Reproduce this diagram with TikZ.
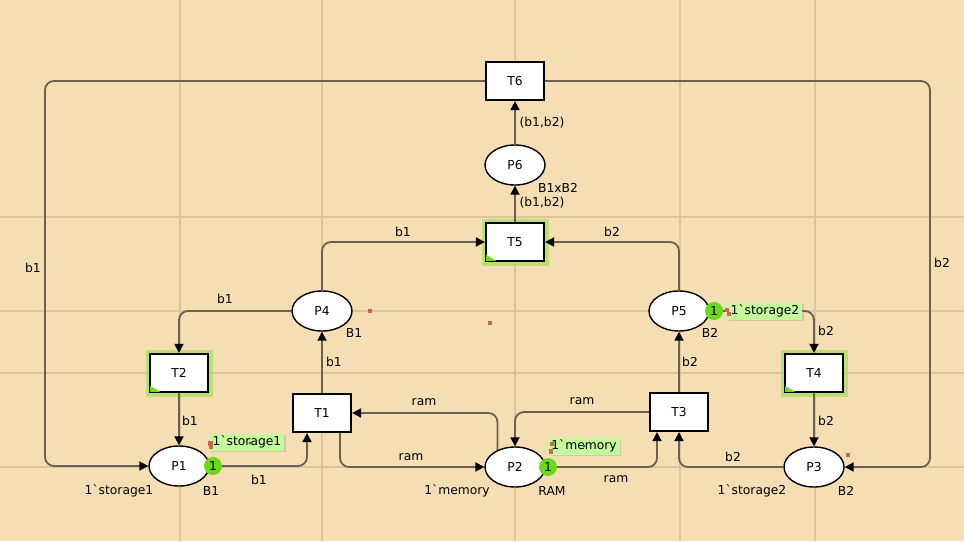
\documentclass[tikz,border=0pt]{standalone}
\usepackage{fontspec}
\newfontfamily\lbl{DejaVu Sans}
\usetikzlibrary{arrows.meta,shapes.geometric,shadows}
\definecolor{bg}{HTML}{F5DEB3}
\definecolor{gridc}{HTML}{DCC59E}
\definecolor{arcc}{HTML}{6B5F4D}
\definecolor{tokg}{HTML}{6CD916}
\definecolor{boxg}{HTML}{C4FA9C}
\definecolor{glowg}{HTML}{A6DE5A}
\definecolor{redsq}{HTML}{C8694E}
\definecolor{dotg}{HTML}{2E8B1E}
\begin{document}
\begin{tikzpicture}[x=1pt,y=-1pt,font=\lbl\fontsize{12.3}{14}\selectfont,
 place/.style={ellipse,draw=black,line width=1.4pt,fill=white,minimum width=60pt,minimum height=40pt,inner sep=0pt},
 trans/.style={rectangle,draw=black,line width=2.2pt,fill=white,minimum width=58pt,minimum height=38pt,inner sep=0pt},
 enabled/.style={preaction={draw=glowg,line width=9pt,opacity=0.7}},
 arc/.style={draw=arcc,line width=1.8pt,rounded corners=9pt,-{Triangle[length=9pt,width=9pt,color=black]}},
 lab/.style={inner sep=0pt,text=black},
 token/.style={circle,fill=tokg,minimum size=18pt,inner sep=0pt},
 markbox/.style={fill=boxg,inner xsep=3pt,inner ysep=0pt,minimum height=17pt,drop shadow={shadow xshift=1.5pt,shadow yshift=-1.5pt,opacity=0.25}},
 gridline/.style={draw=gridc,line width=2pt},
 sq/.style={fill=redsq},
 dot/.style={fill=dotg}
]
\fill[bg] (0,0) rectangle (964,541);
\useasboundingbox (0,0) rectangle (964,541);
% grid
\foreach \gx in {180,322,515,680,815} \draw[gridline] (\gx,0) -- (\gx,541);
\foreach \gy in {217,311,373,467} \draw[gridline] (0,\gy) -- (964,\gy);

% places
\node[place] (P1) at (179,466) {P1};
\node[place] (P2) at (515,467) {P2};
\node[place] (P3) at (814,467) {P3};
\node[place] (P4) at (322,311) {P4};
\node[place] (P5) at (679,311) {P5};
\node[place] (P6) at (515,165) {P6};
% transitions
\node[trans] (T1) at (322,413) {T1};
\node[trans,enabled] (T2) at (179,373) {T2};
\node[trans] (T3) at (679,412) {T3};
\node[trans,enabled] (T4) at (814,373) {T4};
\node[trans,enabled] (T5) at (515,242) {T5};
\node[trans] (T6) at (515,81) {T6};

\coordinate (L) at (45,466);
\coordinate (R) at (930,467);

% arcs
\draw[arc] (P1.east) -| ([xshift=-15pt]T1.south);
\draw[arc] ([xshift=18pt]T1.south) |- (P2.west);
\draw[arc] (P2.136) |- (T1.east);
\draw[arc] (T3.west) -| (P2.north);
\draw[arc] (P2.east) -| ([xshift=-22pt]T3.south);
\draw[arc] (P3.west) -| (T3.south);
\draw[arc] (T3.north) -- (P5.south);
\draw[arc] (P5.north) |- (T5.east);
\draw[arc] (P4.north) |- (T5.west);
\draw[arc] (T1.north) -- (P4.south);
\draw[arc] (P4.west) -| (T2.north);
\draw[arc] (T2.south) -- (P1.north);
\draw[arc] (P5.east) -| (T4.north);
\draw[arc] (T4.south) -- (P3.north);
\draw[arc] (T5.north) -- (P6.south);
\draw[arc] (P6.north) -- (T6.south);
\draw[arc] (T6.west) -| (L) -- (P1.west);
\draw[arc] (T6.east) -| (R) -- (P3.east);

% enabled corner marks
\foreach \t in {T2,T4,T5}
  \fill[tokg] ([shift={(1.2pt,1.2pt)}]\t.south west) -- ++(10,0) -- ++(-10,-6) -- cycle;

% arc labels
\node[lab] (a1) at (259,480) {b1};
\node[lab] (a2) at (411,457) {ram};
\node[lab] (a3) at (424,402) {ram};
\node[lab] (a4) at (582,401) {ram};
\node[lab] (a5) at (616,479) {ram};
\node[lab] (a6) at (733,457) {b2};
\node[lab] (a7) at (690,362) {b2};
\node[lab] (a8) at (612,232) {b2};
\node[lab] (a9) at (403,232) {b1};
\node[lab] (a10) at (334,362) {b1};
\node[lab] (a11) at (225,299) {b1};
\node[lab] (a12) at (190,421) {b1};
\node[lab] (a13) at (826,331) {b2};
\node[lab] (a14) at (826,421) {b2};
\node[lab] (a15) at (542,203) {(b1,b2)};
\node[lab] (a16) at (542,123) {(b1,b2)};
\node[lab] (a17) at (33,268) {b1};
\node[lab] (a18) at (942,263) {b2};

% place labels
\node[lab] (c1) at (211,491) {B1};
\node[lab] (i1) at (119,491) {1`storage1};
\node[lab] (c2) at (552,491) {RAM};
\node[lab] (i2) at (457,491) {1`memory};
\node[lab] (c3) at (846,491) {B2};
\node[lab] (i3) at (752,491) {1`storage2};
\node[lab] (c4) at (354,333) {B1};
\node[lab] (c5) at (710,333) {B2};
\node[lab] (c6) at (558,188) {B1xB2};

% markings
\node[markbox] (m1) at (247,442) {1`storage1};
\node[markbox] (m2) at (584,446) {1`memory};
\node[markbox] (m5) at (765,311) {1`storage2};
\node[token] (k1) at (213,466) {1};
\node[token] (k2) at (548,467) {1};
\node[token] (k5) at (714,311) {1};

% small markers
\fill[sq] (207.5,441) rectangle (212.5,446);
\fill[sq] (209,445) rectangle (213,449);
\fill[sq] (548.5,449) rectangle (553,454);
\fill[sq] (550,442) rectangle (554,446);
\fill[sq] (725,308) rectangle (729,312);
\fill[sq] (727,312) rectangle (731,316);
\fill[sq] (368,309) rectangle (372,313);
\fill[sq] (488,321) rectangle (492,325);
\fill[sq] (846,453) rectangle (850,457);
\fill[dot] (250,443) circle (1.6);
\fill[dot] (584,446) circle (1.6);
\fill[dot] (765,311) circle (1.6);
\end{tikzpicture}
\end{document}
